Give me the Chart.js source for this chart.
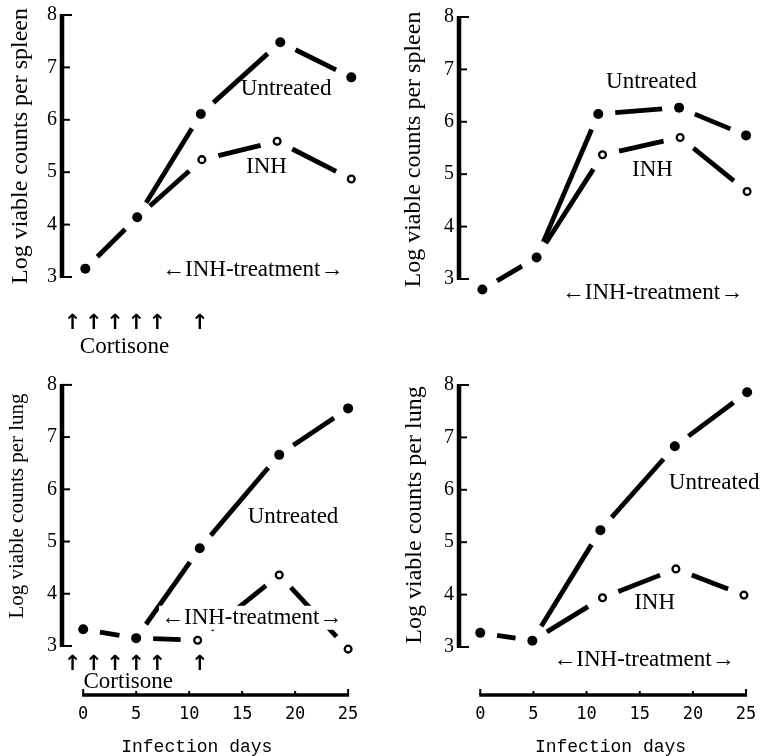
<!DOCTYPE html>
<html>
<head>
<meta charset="utf-8">
<script src="https://cdn.jsdelivr.net/npm/chart.js@4.4.1/dist/chart.umd.min.js"></script>
<style>
  html, body { margin: 0; padding: 0; background: #fff; overflow: hidden; }
  #wrap { position: relative; width: 762px; height: 756px; overflow: hidden; background: #fff; }
  #wrap canvas { position: absolute; left: 0; top: 0; }
</style>
</head>
<body>
<div id="wrap">
  <canvas id="spleenA" width="762" height="762"></canvas>
  <canvas id="spleenB" width="762" height="762"></canvas>
  <canvas id="lungA" width="762" height="762"></canvas>
  <canvas id="lungB" width="762" height="762"></canvas>
</div>
<script>
// shared axis ticks
const dayTicks = [0, 5, 10, 15, 20, 25];
const logTicks = [3, 4, 5, 6, 7, 8];
const cortisoneDays = [-1, 1, 3, 5, 7, 11];

// spleen, with cortisone (top left)
const spleenADays = [0.2, 5.1, 11.1, 18.6, 25.3];
const spleenAUntreated = [3.16, 4.14, 6.11, 7.48, 6.81];
const spleenAInhDays = [5.1, 11.2, 18.3, 25.3];
const spleenAInh = [4.14, 5.24, 5.59, 4.87];

// spleen, no cortisone (top right)
const spleenBDays = [0.2, 5.3, 11.1, 18.7, 25];
const spleenBUntreated = [2.80, 3.41, 6.15, 6.27, 5.74];
const spleenBInhDays = [5.3, 11.5, 18.8, 25.1];
const spleenBInh = [3.41, 5.37, 5.70, 4.67];

// lung, with cortisone (bottom left)
const lungADays = [0, 5, 11, 18.5, 25];
const lungAUntreated = [3.32, 3.15, 4.87, 6.66, 7.55];
const lungAInhDays = [5, 10.8, 18.5, 25];
const lungAInh = [3.15, 3.11, 4.36, 2.94];

// lung, no cortisone (bottom right)
const lungBDays = [0, 4.9, 11.3, 18.3, 25.1];
const lungBUntreated = [3.27, 3.12, 5.23, 6.83, 7.86];
const lungBInhDays = [4.9, 11.5, 18.4, 24.8];
const lungBInh = [3.12, 3.94, 4.49, 3.99];

const GAP = 17; // blank space left around each marker

// each segment is drawn as one dash that stops short of both markers
const gapped = {
  borderDash: ctx => {
    const len = Math.hypot(ctx.p1.x - ctx.p0.x, ctx.p1.y - ctx.p0.y);
    return [Math.max(len - 2 * GAP, 0.1), 2 * GAP + 4000];
  },
  borderDashOffset: () => -GAP
};

const serif = '"Liberation Serif", "Times New Roman", serif';

const frame = {
  id: 'frame',
  afterDraw(chart, args, opts) {
    const ctx = chart.ctx;
    const x = chart.scales.x, y = chart.scales.y;
    const left = chart.chartArea.left;
    ctx.save();
    ctx.strokeStyle = '#000';
    ctx.fillStyle = '#000';

    // y axis bracket
    ctx.lineWidth = 4.5;
    ctx.beginPath();
    ctx.moveTo(left, y.getPixelForValue(8) - 1);
    ctx.lineTo(left, y.getPixelForValue(3) + 1);
    ctx.stroke();
    ctx.lineWidth = 2;
    logTicks.forEach(v => {
      const py = y.getPixelForValue(v);
      ctx.beginPath();
      ctx.moveTo(left, py);
      ctx.lineTo(left + (v === 3 || v === 8 ? 10 : 8), py);
      ctx.stroke();
    });

    // day axis bar
    if (opts.dayBar) {
      const by = opts.barY;
      ctx.lineWidth = 3.5;
      ctx.beginPath();
      ctx.moveTo(x.getPixelForValue(0) - 1, by);
      ctx.lineTo(x.getPixelForValue(25) + 1, by);
      ctx.stroke();
      ctx.lineWidth = 2;
      dayTicks.forEach(d => {
        const px = x.getPixelForValue(d);
        ctx.beginPath();
        ctx.moveTo(px, by);
        ctx.lineTo(px, by - (d === 0 || d === 25 ? 6 : 4));
        ctx.stroke();
      });
    }

    // labels
    ctx.textAlign = 'center';
    ctx.textBaseline = 'middle';
    ctx.font = '23px ' + serif;
    (opts.labels || []).forEach(l => {
      const px = x.getPixelForValue(l.day), py = y.getPixelForValue(l.log);
      if (l.knockout) {
        const w = ctx.measureText(l.text).width;
        ctx.fillStyle = '#fff';
        ctx.fillRect(px - w / 2 - 2, py - 12, w + 4, 24);
        ctx.fillStyle = '#000';
      }
      ctx.fillText(l.text, px, py);
    });

    // cortisone injections
    if (opts.cortisone) {
      ctx.font = 'bold 21px "DejaVu Sans"';
      const ay = y.getPixelForValue(opts.cortisone.arrowLog);
      cortisoneDays.forEach(d => ctx.fillText('\u2191', x.getPixelForValue(d), ay));
      ctx.font = '23px ' + serif;
      ctx.fillText('Cortisone', x.getPixelForValue(opts.cortisone.textDay), y.getPixelForValue(opts.cortisone.textLog));
    }
    ctx.restore();
  }
};

function makePanel(id, p) {
  const untreatedPts = p.days.map((d, i) => ({ x: d, y: p.untreated[i] }));
  const inhPts = p.inhDays.map((d, i) => ({ x: d, y: p.inh[i] }));
  new Chart(document.getElementById(id), {
    type: 'line',
    data: {
      datasets: [
        {
          label: 'Untreated',
          data: untreatedPts,
          clip: false,
          borderColor: '#000',
          borderWidth: 4.8,
          pointRadius: 5,
          pointBackgroundColor: '#000',
          pointBorderWidth: 0,
          segment: gapped
        },
        {
          label: 'INH',
          data: inhPts,
          clip: false,
          borderColor: '#000',
          borderWidth: 4.8,
          pointRadius: c => (c.dataIndex === 0 ? 0 : 3.4),
          pointBackgroundColor: '#fff',
          pointBorderColor: '#000',
          pointBorderWidth: 2.3,
          segment: gapped
        }
      ]
    },
    options: {
      responsive: false,
      animation: false,
      devicePixelRatio: 1,
      layout: { padding: p.pad, autoPadding: false },
      plugins: {
        legend: { display: false },
        tooltip: { enabled: false },
        frame: { dayBar: p.showDays, barY: 695, labels: p.labels, cortisone: p.cortisone }
      },
      scales: {
        x: {
          type: 'linear',
          min: -2,
          max: 26.5,
          display: p.showDays,
          grid: { display: false, drawTicks: false },
          border: { display: false },
          afterBuildTicks: s => { s.ticks = dayTicks.map(v => ({ value: v })); },
          afterFit: s => {
            s.height = p.dayHeight || 0;
            s.paddingLeft = 0;
            s.paddingRight = 0;
          },
          ticks: {
            color: '#000',
            padding: 9,
            maxRotation: 0,
            autoSkip: false,
            font: { family: '"DejaVu Sans Mono", monospace', size: 17 }
          },
          title: {
            display: true,
            text: p.dayTitle,
            color: '#000',
            padding: { top: 0, bottom: 1 },
            font: { family: '"Liberation Mono", monospace', size: 18 }
          }
        },
        y: {
          type: 'linear',
          min: p.yMin,
          max: p.yMax,
          grid: { display: false, drawTicks: false },
          border: { display: false },
          afterBuildTicks: s => { s.ticks = logTicks.map(v => ({ value: v })); },
          afterFit: s => {
            s.width = p.yWidth;
            s.paddingTop = 0;
            s.paddingBottom = 0;
          },
          ticks: {
            color: '#000',
            padding: 5,
            font: { family: serif, size: 20 }
          },
          title: {
            display: true,
            text: p.yTitle,
            color: '#000',
            padding: { top: p.titlePad, bottom: 0 },
            font: { family: serif, size: p.titleSize }
          }
        }
      }
    },
    plugins: [frame]
  });
}

makePanel('spleenA', {
  days: spleenADays, untreated: spleenAUntreated,
  inhDays: spleenAInhDays, inh: spleenAInh,
  yTitle: 'Log viable counts per spleen', titleSize: 24, titlePad: 6.6,
  yMin: 2.8, yMax: 8.2, yWidth: 62,
  pad: { left: 0, right: 398, top: 4.5, bottom: 474.5 },
  showDays: false,
  labels: [
    { text: 'Untreated', day: 19.15, log: 6.59 },
    { text: 'INH', day: 17.3, log: 5.10 },
    { text: '\u2190INH-treatment\u2192', day: 16.0, log: 3.13 }
  ],
  cortisone: { arrowLog: 2.12, textDay: 3.9, textLog: 1.66 }
});

makePanel('spleenB', {
  days: spleenBDays, untreated: spleenBUntreated,
  inhDays: spleenBInhDays, inh: spleenBInh,
  yTitle: 'Log viable counts per spleen', titleSize: 24, titlePad: 6.6,
  yMin: 2.74, yMax: 8.2, yWidth: 66,
  pad: { left: 393, right: 0, top: 6.5, bottom: 469.4 },
  showDays: false,
  labels: [
    { text: 'Untreated', day: 16.1, log: 6.76 },
    { text: 'INH', day: 16.2, log: 5.08 },
    { text: '\u2190INH-treatment\u2192', day: 16.2, log: 2.73 }
  ]
});

makePanel('lungA', {
  days: lungADays, untreated: lungAUntreated,
  inhDays: lungAInhDays, inh: lungAInh,
  yTitle: 'Log viable counts per lung', titleSize: 21, titlePad: 4.4,
  yMin: 2.061, yMax: 9.30, yWidth: 62,
  pad: { left: 0, right: 398, top: 317, bottom: 3.2 },
  showDays: true, dayHeight: 63.8, dayTitle: 'Infection days   ',
  labels: [
    { text: 'Untreated', day: 19.8, log: 5.47 },
    { text: '\u2190INH-treatment\u2192', day: 15.9, log: 3.54, knockout: true }
  ],
  cortisone: { arrowLog: 2.64, textDay: 4.25, textLog: 2.31 }
});

makePanel('lungB', {
  days: lungBDays, untreated: lungBUntreated,
  inhDays: lungBInhDays, inh: lungBInh,
  yTitle: 'Log viable counts per lung', titleSize: 24, titlePad: 7,
  yMin: 2.084, yMax: 8.954, yWidth: 66,
  pad: { left: 393, right: 0, top: 335, bottom: 3.2 },
  showDays: true, dayHeight: 63.8, dayTitle: 'Infection days',
  labels: [
    { text: 'Untreated', day: 22.0, log: 6.13 },
    { text: 'INH', day: 16.4, log: 3.84 },
    { text: '\u2190INH-treatment\u2192', day: 15.4, log: 2.75 }
  ]
});
</script>
</body>
</html>
